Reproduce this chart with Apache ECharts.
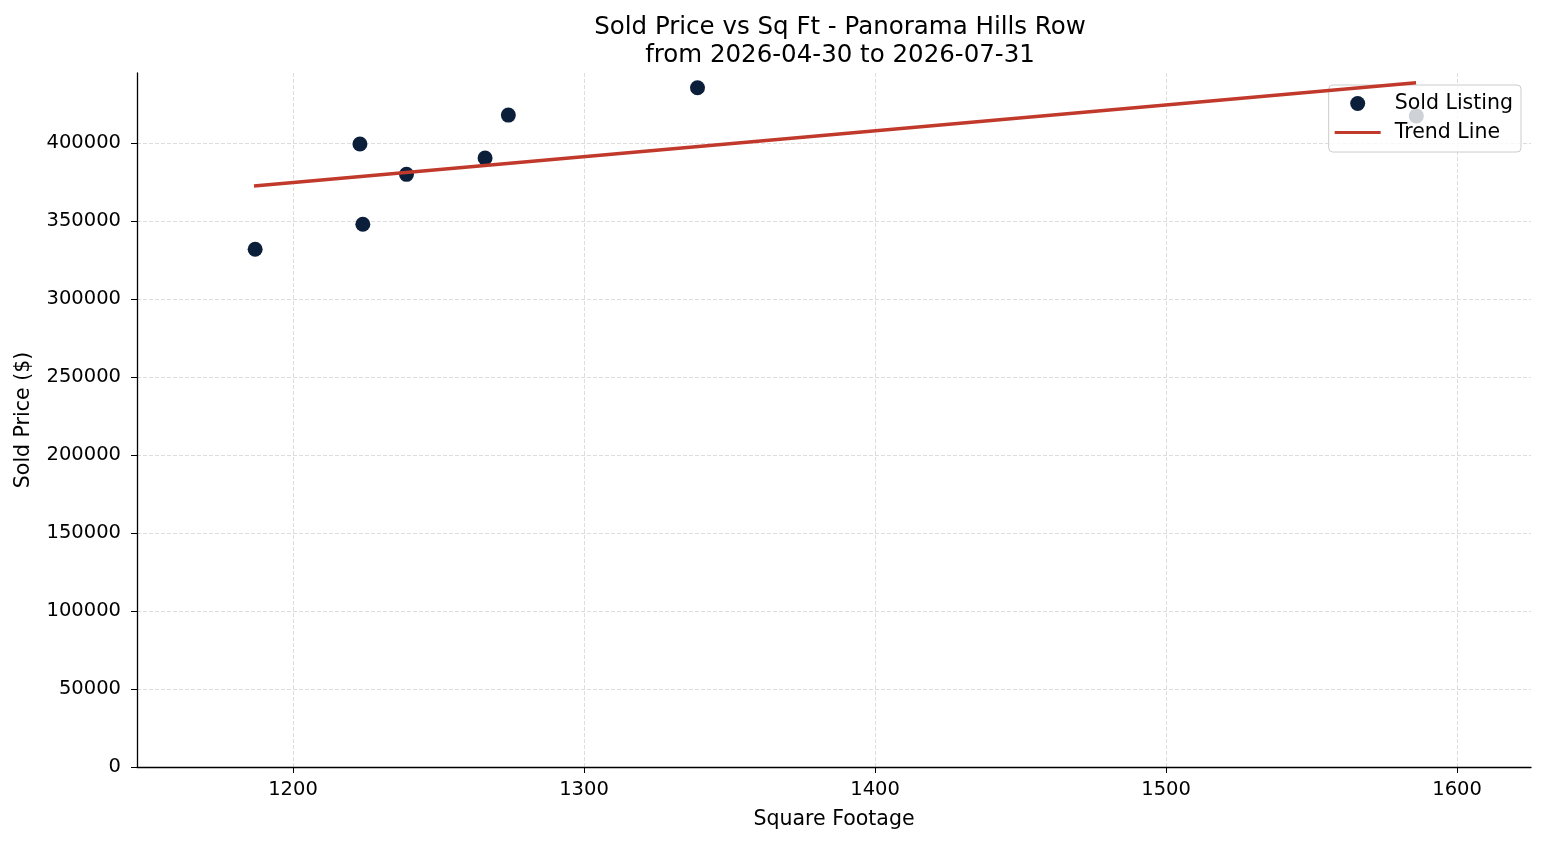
<!DOCTYPE html>
<html>
<head>
<meta charset="utf-8">
<script src="https://cdn.jsdelivr.net/npm/echarts@6/dist/echarts.min.js"></script>
<style>
  html, body { margin: 0; padding: 0; background: #fff; }
  #chart { width: 1547px; height: 845px; }
</style>
</head>
<body>
<div id="chart"></div>
<script>
// sold listings: square footage vs sold price
const sqFt = [1187, 1223, 1224, 1239, 1266, 1274, 1339, 1586];
const soldPrice = [332000, 399500, 348000, 380000, 390500, 418000, 435500, 417500];

// trend line end points (least squares fit)
const trendX = [1186.6, 1585.9];
const trendY = [372600, 438800];

const xTicks = [1200, 1300, 1400, 1500, 1600];
const yTicks = [0, 50000, 100000, 150000, 200000, 250000, 300000, 350000, 400000];

const FONT = "DejaVu Sans";
const GRID_LINE = {color: "#d4d4d4", type: [4, 2], width: 0.8};

const chart = echarts.init(document.getElementById("chart"));

chart.setOption({
  animation: false,
  textStyle: {fontFamily: FONT},
  title: {
    text: "Sold Price vs Sq Ft - Panorama Hills Row\nfrom 2026-04-30 to 2026-07-31",
    left: 835, top: 9, textAlign: "center",
    textStyle: {fontFamily: FONT, fontSize: 24.5, fontWeight: "normal", color: "#000", lineHeight: 28},
  },
  grid: {left: 137, right: 16, top: 73, bottom: 78},
  legend: {
    orient: "vertical",
    right: 26, top: 85,
    padding: [8, 8, 9, 6],
    itemGap: 8,
    itemWidth: 46, itemHeight: 15,
    backgroundColor: "rgba(255,255,255,0.8)",
    borderColor: "#cccccc", borderWidth: 1, borderRadius: 4,
    textStyle: {fontFamily: FONT, fontSize: 20.5, color: "#000", padding: [0, 0, 0, 9]},
    data: [
      {name: "Sold Listing", icon: "circle"},
      {name: "Trend Line", icon: "path://M0,0H46V3H0Z"},
    ],
  },
  xAxis: {
    type: "value",
    min: 1146.4, max: 1625.4,
    name: "Square Footage",
    nameLocation: "middle", nameGap: 42,
    nameTextStyle: {fontFamily: FONT, fontSize: 20.5, color: "#000"},
    axisLine: {show: true, onZero: false, lineStyle: {color: "#000", width: 1.3}},
    axisTick: {show: true, inside: false, length: 6, customValues: xTicks, lineStyle: {color: "#000"}},
    axisLabel: {customValues: xTicks, formatter: v => String(v), fontFamily: FONT, fontSize: 19.5, color: "#000", margin: 13},
    splitLine: {show: false},
  },
  yAxis: {
    type: "value",
    min: 0, max: 445000,
    name: "Sold Price ($)",
    nameLocation: "middle", nameGap: 103,
    nameTextStyle: {fontFamily: FONT, fontSize: 20.5, color: "#000"},
    axisLine: {show: true, lineStyle: {color: "#000", width: 1.3}},
    axisTick: {show: true, length: 6, customValues: yTicks, lineStyle: {color: "#000"}},
    axisLabel: {customValues: yTicks, formatter: v => String(v), fontFamily: FONT, fontSize: 19.5, color: "#000", margin: 16},
    splitLine: {show: false},
  },
  series: [
    {
      // dashed grid lines at the labelled ticks, kept under the marks
      type: "line",
      silent: true,
      data: [],
      z: 0,
      markLine: {
        z: 0,
        symbol: "none",
        silent: true,
        animation: false,
        label: {show: false},
        lineStyle: GRID_LINE,
        data: xTicks.map(v => ({xAxis: v})).concat(yTicks.slice(1).map(v => ({yAxis: v}))),
      },
    },
    {
      name: "Sold Listing",
      type: "scatter",
      symbolSize: 15,
      itemStyle: {color: "#0b1f3b", opacity: 1},
      data: sqFt.map((x, i) => [x, soldPrice[i]]),
      z: 3,
    },
    {
      name: "Trend Line",
      type: "line",
      symbol: "none",
      lineStyle: {color: "#c0392b", width: 3.5},
      itemStyle: {color: "#c0392b"},
      data: trendX.map((x, i) => [x, trendY[i]]),
      z: 4,
    },
  ],
});
</script>
</body>
</html>
